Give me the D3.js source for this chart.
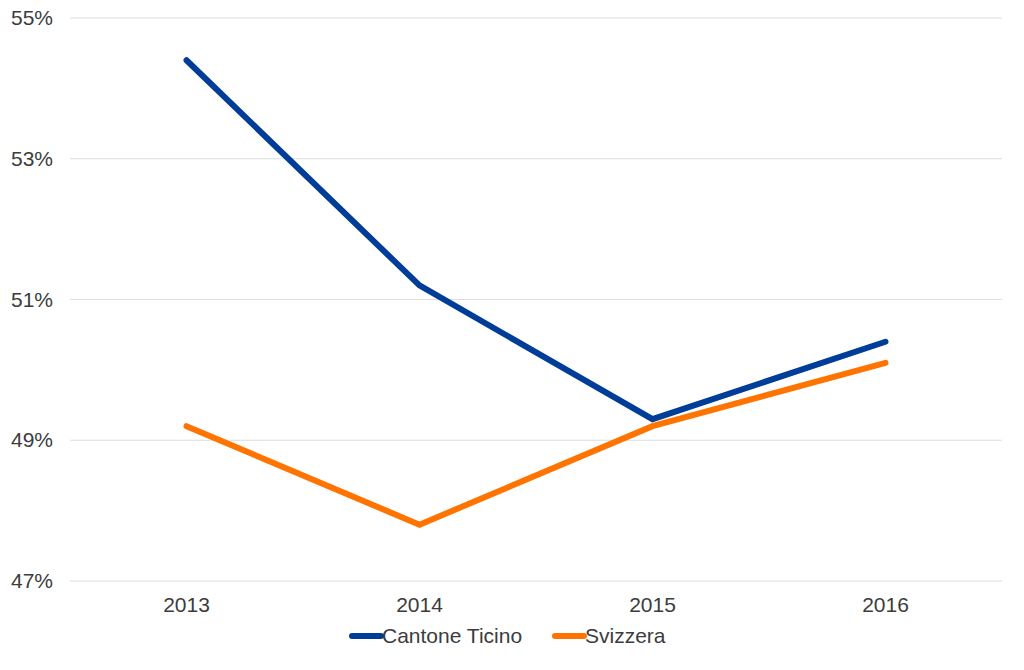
<!DOCTYPE html>
<html><head><meta charset="utf-8">
<script src="https://cdn.jsdelivr.net/npm/d3@7"></script>
<style>body{margin:0;background:#fff}text{font-family:"Liberation Sans",Arial,sans-serif;fill:#3c3c3c}</style>
</head><body><svg id="c" width="1024" height="670"></svg>
<script>
const years = ["2013","2014","2015","2016"];
const ticino = [54.4, 51.2, 49.3, 50.4];
const svizzera = [49.2, 47.8, 49.2, 50.1];
const yTicks = [47, 49, 51, 53, 55];
const seriesNames = ["Cantone Ticino","Svizzera"];
const colors = ["#003d99","#ff7400"];

const svg = d3.select("#c");
const x = d3.scaleBand().domain(years).range([70,1002]);
const y = d3.scaleLinear().domain([47,55]).range([581,18]);

svg.append("g").selectAll("line").data(yTicks).join("line")
  .attr("x1",70).attr("x2",1002).attr("y1",d=>y(d)).attr("y2",d=>y(d))
  .attr("stroke","#dddddd").attr("stroke-width",1.2);
svg.append("g").selectAll("text").data(yTicks).join("text")
  .attr("x",53).attr("y",d=>y(d)+7).attr("text-anchor","end")
  .attr("font-size",21).text(d=>d+"%");
svg.append("g").selectAll("text").data(years).join("text")
  .attr("x",d=>x(d)+x.bandwidth()/2).attr("y",612).attr("text-anchor","middle")
  .attr("font-size",21).text(d=>d);

const line = d3.line().x((d,i)=>x(years[i])+x.bandwidth()/2).y(d=>y(d));
[ticino, svizzera].forEach((s,k)=>{
  svg.append("path").datum(s).attr("d",line).attr("fill","none")
    .attr("stroke",colors[k]).attr("stroke-width",6)
    .attr("stroke-linecap","round").attr("stroke-linejoin","miter");
});

const leg = [{x:350},{x:553}];
seriesNames.forEach((n,k)=>{
  const g = svg.append("g").attr("transform",`translate(${leg[k].x},636)`);
  g.append("line").attr("x1",2).attr("x2",31).attr("y1",0).attr("y2",0)
    .attr("stroke",colors[k]).attr("stroke-width",6).attr("stroke-linecap","round");
  g.append("text").attr("x",32).attr("y",7).attr("font-size",21).text(n);
});
</script></body></html>
